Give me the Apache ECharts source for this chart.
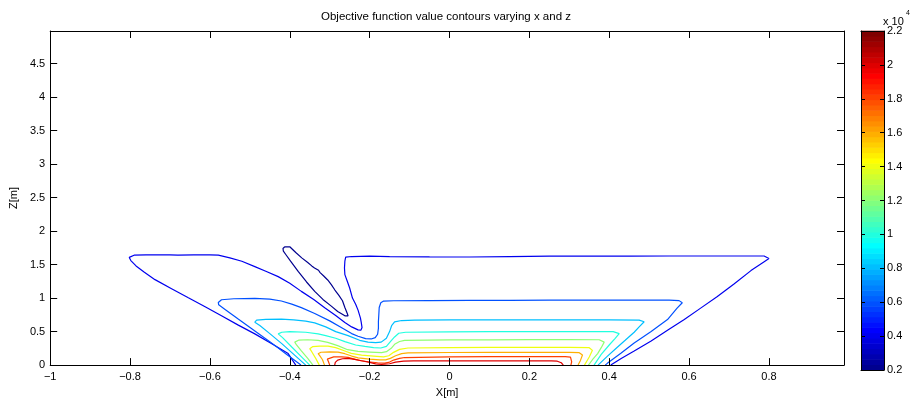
<!DOCTYPE html>
<html><head><meta charset="utf-8">
<script src="https://cdn.jsdelivr.net/npm/echarts@6/dist/echarts.min.js"></script>
<style>html,body{margin:0;padding:0;background:#fff}#c{width:912px;height:403px}</style>
</head><body><div id="c"></div>
<script>
// ---- data (x [m], z [m]) ----
const titleText = 'Objective function value contours varying x and z';
const xTicks = [-1, -0.8, -0.6, -0.4, -0.2, 0, 0.2, 0.4, 0.6, 0.8];
const xTickLabels = ['\u22121', '\u22120.8', '\u22120.6', '\u22120.4', '\u22120.2', '0', '0.2', '0.4', '0.6', '0.8'];
const yTicks = [0, 0.5, 1, 1.5, 2, 2.5, 3, 3.5, 4, 4.5];
const yTickLabels = ['0', '0.5', '1', '1.5', '2', '2.5', '3', '3.5', '4', '4.5'];
const cbTicks = [0.2, 0.4, 0.6, 0.8, 1, 1.2, 1.4, 1.6, 1.8, 2, 2.2];
const cbTickLabels = ['0.2', '0.4', '0.6', '0.8', '1', '1.2', '1.4', '1.6', '1.8', '2', '2.2'];
const cbRange = [0.2, 2.2];          // x 10^4
const levels = [2000, 4000, 6000, 8000, 10000, 12000, 14000, 16000, 18000, 20000];

const c2000 = [[-0.4125,1.765],[-0.400,1.765],[-0.385,1.68],[-0.37,1.60],[-0.355,1.53],[-0.345,1.48],[-0.338,1.45],[-0.333,1.43],[-0.328,1.415],[-0.324,1.38],[-0.319,1.37],[-0.315,1.33],[-0.31,1.32],[-0.305,1.27],[-0.300,1.26],[-0.296,1.20],[-0.291,1.185],[-0.287,1.12],[-0.282,1.105],[-0.277,1.04],[-0.272,1.02],[-0.268,0.96],[-0.262,0.86],[-0.256,0.77],[-0.254,0.735],[-0.258,0.72],[-0.262,0.735],[-0.28,0.80],[-0.296,0.88],[-0.317,0.98],[-0.3375,1.10],[-0.358,1.24],[-0.379,1.397],[-0.398,1.55],[-0.41,1.65],[-0.416,1.70],[-0.417,1.74],[-0.4125,1.765]];
const c4000 = [[-0.385,0],[-0.404,0.172],[-0.445,0.32],[-0.4875,0.466],[-0.53,0.60],[-0.571,0.735],[-0.612,0.87],[-0.654,1.004],[-0.696,1.14],[-0.7375,1.275],[-0.765,1.39],[-0.785,1.48],[-0.798,1.56],[-0.802,1.607],[-0.79,1.64],[-0.76,1.645],[-0.70,1.645],[-0.68,1.642],[-0.64,1.645],[-0.60,1.645],[-0.579,1.64],[-0.55,1.60],[-0.52,1.55],[-0.4875,1.47],[-0.46,1.40],[-0.429,1.32],[-0.40,1.22],[-0.371,1.10],[-0.34,0.98],[-0.3125,0.857],[-0.285,0.74],[-0.262,0.637],[-0.245,0.57],[-0.229,0.525],[-0.222,0.52],[-0.219,0.56],[-0.221,0.637],[-0.223,0.70],[-0.229,0.82],[-0.235,0.907],[-0.243,1.0],[-0.25,1.15],[-0.256,1.25],[-0.262,1.35],[-0.263,1.45],[-0.262,1.55],[-0.26,1.61],[-0.245,1.62],[-0.2,1.625],[-0.15,1.62],[-0.05,1.615],[0.05,1.613],[0.15,1.62],[0.25,1.625],[0.35,1.625],[0.45,1.627],[0.55,1.628],[0.65,1.628],[0.75,1.628],[0.788,1.628],[0.8,1.59],[0.79,1.55],[0.755,1.41],[0.7125,1.21],[0.67,1.02],[0.629,0.85],[0.588,0.68],[0.546,0.52],[0.505,0.36],[0.4625,0.21],[0.43,0.10],[0.404,0]];
const c6000 = [[-0.372,0],[-0.41,0.17],[-0.45,0.35],[-0.49,0.52],[-0.53,0.69],[-0.562,0.83],[-0.578,0.9],[-0.579,0.935],[-0.571,0.975],[-0.54,0.99],[-0.4875,0.995],[-0.45,0.985],[-0.421,0.956],[-0.395,0.91],[-0.371,0.857],[-0.3375,0.77],[-0.30,0.66],[-0.271,0.56],[-0.245,0.47],[-0.229,0.43],[-0.21,0.395],[-0.196,0.39],[-0.186,0.41],[-0.18,0.46],[-0.178,0.55],[-0.178,0.65],[-0.177,0.75],[-0.176,0.86],[-0.172,0.93],[-0.165,0.955],[-0.14,0.96],[-0.05,0.962],[0.05,0.965],[0.15,0.966],[0.25,0.968],[0.35,0.968],[0.45,0.968],[0.55,0.968],[0.575,0.962],[0.583,0.93],[0.57,0.85],[0.546,0.68],[0.505,0.50],[0.4625,0.33],[0.43,0.18],[0.396,0.03],[0.39,0]];
const c8000 = [[-0.36,0],[-0.39,0.16],[-0.42,0.32],[-0.45,0.47],[-0.475,0.59],[-0.4875,0.64],[-0.483,0.67],[-0.46,0.683],[-0.421,0.686],[-0.39,0.675],[-0.36,0.655],[-0.3375,0.63],[-0.31,0.57],[-0.285,0.5],[-0.254,0.44],[-0.225,0.37],[-0.204,0.343],[-0.185,0.335],[-0.171,0.343],[-0.158,0.40],[-0.15,0.5],[-0.145,0.588],[-0.1375,0.645],[-0.12,0.665],[-0.0875,0.672],[0,0.674],[0.1,0.675],[0.2,0.675],[0.3,0.675],[0.4,0.675],[0.475,0.672],[0.4875,0.647],[0.475,0.57],[0.4625,0.49],[0.44,0.37],[0.421,0.27],[0.395,0.13],[0.372,0]];
const c10000 = [[-0.35,0],[-0.37,0.12],[-0.395,0.27],[-0.418,0.41],[-0.429,0.466],[-0.42,0.49],[-0.4,0.5],[-0.36,0.49],[-0.329,0.466],[-0.31,0.44],[-0.285,0.40],[-0.262,0.35],[-0.235,0.30],[-0.212,0.28],[-0.19,0.262],[-0.172,0.255],[-0.158,0.28],[-0.148,0.35],[-0.1375,0.42],[-0.127,0.475],[-0.11,0.49],[0,0.495],[0.1,0.498],[0.2,0.5],[0.3,0.5],[0.41,0.5],[0.425,0.47],[0.415,0.40],[0.40,0.30],[0.38,0.16],[0.362,0]];
const c12000 = [[-0.342,0],[-0.355,0.1],[-0.372,0.22],[-0.383,0.3],[-0.3875,0.343],[-0.378,0.372],[-0.355,0.378],[-0.329,0.368],[-0.305,0.34],[-0.28,0.29],[-0.255,0.23],[-0.229,0.205],[-0.2,0.195],[-0.17,0.185],[-0.158,0.2],[-0.146,0.25],[-0.1375,0.31],[-0.125,0.352],[-0.1125,0.368],[0,0.375],[0.1,0.377],[0.2,0.38],[0.3,0.38],[0.375,0.378],[0.3875,0.343],[0.38,0.26],[0.371,0.172],[0.358,0.08],[0.348,0]];
const c14000 = [[-0.326,0],[-0.335,0.1],[-0.345,0.2],[-0.35,0.245],[-0.343,0.275],[-0.325,0.284],[-0.304,0.282],[-0.285,0.26],[-0.262,0.21],[-0.246,0.175],[-0.22,0.15],[-0.19,0.135],[-0.165,0.122],[-0.152,0.14],[-0.14,0.19],[-0.125,0.235],[-0.104,0.255],[0,0.262],[0.1,0.264],[0.2,0.265],[0.3,0.265],[0.35,0.26],[0.358,0.22],[0.35,0.12],[0.338,0]];
const c16000 = [[-0.313,0],[-0.318,0.08],[-0.325,0.14],[-0.329,0.17],[-0.322,0.192],[-0.3,0.197],[-0.279,0.194],[-0.262,0.17],[-0.245,0.135],[-0.229,0.108],[-0.2,0.09],[-0.175,0.078],[-0.16,0.078],[-0.148,0.1],[-0.135,0.14],[-0.12,0.172],[-0.104,0.183],[0,0.188],[0.1,0.19],[0.2,0.19],[0.3,0.19],[0.325,0.185],[0.333,0.15],[0.328,0.07],[0.322,0]];
const c18000 = [[-0.3,0],[-0.303,0.05],[-0.306,0.09],[-0.303,0.113],[-0.29,0.123],[-0.27,0.123],[-0.254,0.115],[-0.238,0.09],[-0.222,0.065],[-0.204,0.05],[-0.18,0.035],[-0.162,0.03],[-0.15,0.045],[-0.14,0.075],[-0.125,0.1],[-0.1125,0.113],[0,0.122],[0.1,0.125],[0.2,0.127],[0.29,0.127],[0.303,0.12],[0.308,0.098],[0.306,0.05],[0.304,0]];
const c20000 = [[-0.2875,0],[-0.286,0.04],[-0.28,0.075],[-0.268,0.095],[-0.254,0.1],[-0.238,0.085],[-0.22,0.065],[-0.2,0.04],[-0.185,0.018],[-0.17,0.01],[-0.15,0.02],[-0.135,0.045],[-0.115,0.058],[-0.09,0.062],[0,0.063],[0.1,0.064],[0.2,0.065],[0.255,0.064],[0.27,0.058],[0.28,0.035],[0.285,0]];
const contours = [c2000, c4000, c6000, c8000, c10000, c12000, c14000, c16000, c18000, c20000];

// ---- MATLAB jet(64) colormap ----
function jet64() {
  const m = 64, n = 16;
  const u = [];
  for (let i = 1; i <= n; i++) u.push(i / n);
  for (let i = 0; i < n - 1; i++) u.push(1);
  for (let i = n; i >= 1; i--) u.push(i / n);
  const J = []; for (let i = 0; i < m; i++) J.push([0, 0, 0]);
  const g0 = Math.ceil(n / 2) - ((m % 4) === 1 ? 1 : 0);
  for (let k = 0; k < u.length; k++) {
    const g = g0 + k + 1, r = g + n, b = g - n;
    if (r >= 1 && r <= m) J[r - 1][0] = u[k];
    if (g >= 1 && g <= m) J[g - 1][1] = u[k];
    if (b >= 1 && b <= m) J[b - 1][2] = u[k];
  }
  return J.map(c => 'rgb(' + c.map(v => Math.round(v * 255)).join(',') + ')');
}
const cmap = jet64();
function levelColor(L) {
  const t = (L / 10000 - cbRange[0]) / (cbRange[1] - cbRange[0]);
  const idx = Math.min(63, Math.floor(t * 64));
  return cmap[idx];
}
const cbBands = cmap.map((c, i) => [cbRange[0] + i * (cbRange[1] - cbRange[0]) / 64, cbRange[0] + (i + 1) * (cbRange[1] - cbRange[0]) / 64, i]);

function fmt(ticks, labels) {
  return function (v) {
    for (let i = 0; i < ticks.length; i++) if (Math.abs(v - ticks[i]) < 1e-6) return labels[i];
    return '';
  };
}
const FONT = "'Liberation Sans', Arial, sans-serif";
const black = '#000';
const FS = 11;

const chart = echarts.init(document.getElementById('c'), null, { renderer: 'canvas' });
const lineAx = { show: true, onZero: false, lineStyle: { color: black, width: 1 } };

const series = contours.map((pts, i) => ({
  type: 'line', xAxisIndex: 0, yAxisIndex: 0, data: pts, showSymbol: false, symbol: 'none',
  smooth: false, animation: false, clip: true,
  lineStyle: { color: levelColor(levels[i]), width: 1.2 }, z: 3
}));
series.push({
  type: 'custom', xAxisIndex: 2, yAxisIndex: 2, data: cbBands, animation: false, z: 1,
  renderItem: function (params, api) {
    const lo = api.value(0), hi = api.value(1), idx = api.value(2);
    const p1 = api.coord([0, hi]), p2 = api.coord([1, lo]);
    return { type: 'rect', shape: { x: p1[0], y: p1[1] - 0.3, width: p2[0] - p1[0], height: p2[1] - p1[1] + 0.6 }, style: { fill: cmap[idx] } };
  }
});

chart.setOption({
  animation: false,
  backgroundColor: '#fff',
  textStyle: { fontFamily: FONT, color: black },
  title: { text: titleText, left: 446, top: 11, padding: 0, textAlign: 'center',
    textStyle: { fontSize: 11.5, fontWeight: 'normal', color: black, fontFamily: FONT } },
  grid: [
    { left: 49, top: 31, width: 795, height: 339, show: false },
    { left: 861, top: 31, width: 23, height: 339, show: false }
  ],
  xAxis: [
    { type: 'value', gridIndex: 0, position: 'bottom', min: -1, max: 0.988, interval: 0.2, z: 10,
      axisLine: lineAx, axisTick: { inside: true, length: 7, lineStyle: { color: black } },
      axisLabel: { color: black, fontSize: FS, margin: 6, fontFamily: FONT, formatter: fmt(xTicks, xTickLabels), showMaxLabel: false },
      splitLine: { show: false },
      name: 'X[m]', nameLocation: 'middle', nameGap: 18, nameTextStyle: { color: black, fontSize: FS, fontFamily: FONT } },
    { type: 'value', gridIndex: 0, position: 'top', min: -1, max: 0.988, interval: 0.2, z: 10,
      axisLine: lineAx, axisTick: { inside: true, length: 7, lineStyle: { color: black } },
      axisLabel: { show: false }, splitLine: { show: false } },
    { type: 'value', gridIndex: 1, position: 'bottom', min: 0, max: 1, z: 10,
      axisLine: lineAx, axisTick: { show: false }, axisLabel: { show: false }, splitLine: { show: false } },
    { type: 'value', gridIndex: 1, position: 'top', min: 0, max: 1, z: 10,
      axisLine: lineAx, axisTick: { show: false }, axisLabel: { show: false }, splitLine: { show: false } }
  ],
  yAxis: [
    { type: 'value', gridIndex: 0, position: 'left', min: 0, max: 4.985, interval: 0.5, z: 10,
      axisLine: lineAx, axisTick: { inside: true, length: 7, lineStyle: { color: black } },
      axisLabel: { color: black, fontSize: FS, margin: 5, fontFamily: FONT, formatter: fmt(yTicks, yTickLabels), showMaxLabel: false },
      splitLine: { show: false },
      name: 'Z[m]', nameLocation: 'middle', nameGap: 25, nameTextStyle: { color: black, fontSize: FS, fontFamily: FONT } },
    { type: 'value', gridIndex: 0, position: 'right', min: 0, max: 4.985, interval: 0.5, z: 10,
      axisLine: lineAx, axisTick: { inside: true, length: 7, lineStyle: { color: black } },
      axisLabel: { show: false }, splitLine: { show: false } },
    { type: 'value', gridIndex: 1, position: 'right', min: 0.2, max: 2.2, interval: 0.2, z: 10,
      axisLine: lineAx, axisTick: { inside: true, length: 4, lineStyle: { color: black } },
      axisLabel: { color: black, fontSize: FS, margin: 3, fontFamily: FONT, formatter: fmt(cbTicks, cbTickLabels) },
      splitLine: { show: false } },
    { type: 'value', gridIndex: 1, position: 'left', min: 0.2, max: 2.2, interval: 0.2, z: 10,
      axisLine: lineAx, axisTick: { inside: true, length: 4, lineStyle: { color: black } },
      axisLabel: { show: false }, splitLine: { show: false } }
  ],
  graphic: [
    { type: 'text', x: 883, y: 16, z: 20, style: { text: 'x 10', fill: black, font: '11px ' + FONT } },
    { type: 'text', x: 906, y: 10, z: 20, style: { text: '4', fill: black, font: '7px ' + FONT } }
  ],
  series: series
});
</script>
</body></html>
